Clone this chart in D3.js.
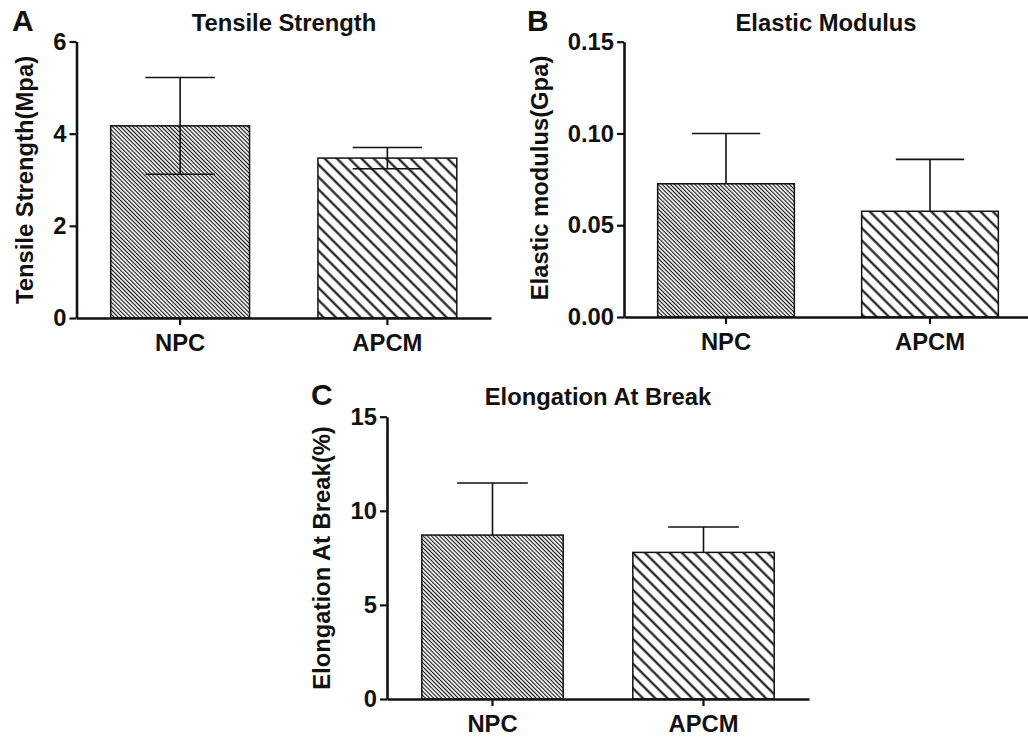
<!DOCTYPE html>
<html>
<head>
<meta charset="utf-8">
<script src="https://cdn.jsdelivr.net/npm/d3@7"></script>
<style>
  html, body { margin: 0; padding: 0; background: #fff; }
  svg { display: block; }
  text { font-family: "Liberation Sans", Arial, sans-serif; font-weight: bold; fill: #111; }
</style>
</head>
<body>
<script>
// ---- data ----
const categories = ["NPC", "APCM"];

const tensileMean = [4.17, 3.47];
const tensileSD   = [1.05, 0.23];
const tensileTicks = [0, 2, 4, 6];

const elasticMean = [0.0726, 0.0576];
const elasticSD   = [0.0274, 0.0283];
const elasticTicks = [0, 0.05, 0.10, 0.15];

const elongMean = [8.71, 7.79];
const elongSD   = [2.77, 1.35];
const elongTicks = [0, 5, 10, 15];

const panelLetters = ["A", "B", "C"];
const panelTitles = ["Tensile Strength", "Elastic Modulus", "Elongation At Break"];
const yLabels = ["Tensile Strength(Mpa)", "Elastic modulus(Gpa)", "Elongation At Break(%)"];

// ---- layout ----
const W = 1028, H = 737;
const FS = 23.8;
const svg = d3.select("body").append("svg").attr("width", W).attr("height", H);
const defs = svg.append("defs");

function hatch(id, spacing, sw) {
  const p = defs.append("pattern")
    .attr("id", id)
    .attr("patternUnits", "userSpaceOnUse")
    .attr("width", spacing).attr("height", spacing)
    .attr("patternTransform", "rotate(-45)");
  p.append("rect").attr("width", spacing).attr("height", spacing).attr("fill", "#fff");
  p.append("line")
    .attr("x1", spacing / 2).attr("x2", spacing / 2)
    .attr("y1", -1).attr("y2", spacing + 1)
    .attr("stroke", "#111").attr("stroke-width", sw);
}
hatch("hatchDense", 2.9, 1.15);
hatch("hatchWide", 8.7, 2.1);
const fills = ["url(#hatchDense)", "url(#hatchWide)"];

const panels = [
  { mean: tensileMean, sd: tensileSD, ticks: tensileTicks, fmt: d3.format("d"),
    x0: 76.5, x1: 491, y0: 318, y1: 41.5, both: true,
    letter: [12, 31], title: [284, 31], ylab: [33, 180] },
  { mean: elasticMean, sd: elasticSD, ticks: elasticTicks, fmt: d3.format(".2f"),
    x0: 624, x1: 1032, y0: 317, y1: 41.7, both: false,
    letter: [527, 31], title: [826, 31], ylab: [548, 178] },
  { mean: elongMean, sd: elongSD, ticks: elongTicks, fmt: d3.format("d"),
    x0: 387, x1: 809, y0: 699, y1: 416.7, both: false,
    letter: [311, 405], title: [598, 405], ylab: [330, 558] }
];

panels.forEach((p, i) => {
  const g = svg.append("g");
  const x = d3.scaleBand().domain(categories).range([p.x0, p.x1])
    .paddingInner(0.33).paddingOuter(0.165);
  const y = d3.scaleLinear().domain([p.ticks[0], p.ticks[p.ticks.length - 1]]).range([p.y0, p.y1]);

  // bars
  g.selectAll("rect.bar").data(categories).join("rect")
    .attr("class", "bar")
    .attr("x", d => x(d))
    .attr("width", x.bandwidth())
    .attr("y", (d, j) => y(p.mean[j]))
    .attr("height", (d, j) => y(0) - y(p.mean[j]))
    .attr("fill", (d, j) => fills[j])
    .attr("stroke", "#111").attr("stroke-width", 1.5);

  // error bars
  const capW = x.bandwidth() * 0.5;
  categories.forEach((c, j) => {
    const cx = x(c) + x.bandwidth() / 2;
    const top = y(p.mean[j] + p.sd[j]);
    const bot = p.both ? y(p.mean[j] - p.sd[j]) : y(p.mean[j]);
    g.append("line").attr("x1", cx).attr("x2", cx).attr("y1", top).attr("y2", bot)
      .attr("stroke", "#111").attr("stroke-width", 1.6);
    g.append("line").attr("x1", cx - capW / 2).attr("x2", cx + capW / 2).attr("y1", top).attr("y2", top)
      .attr("stroke", "#111").attr("stroke-width", 1.6);
    if (p.both) {
      g.append("line").attr("x1", cx - capW / 2).attr("x2", cx + capW / 2).attr("y1", bot).attr("y2", bot)
        .attr("stroke", "#111").attr("stroke-width", 1.6);
    }
  });

  // axes
  const ya = g.append("g").attr("transform", `translate(${p.x0},0)`)
    .call(d3.axisLeft(y).tickValues(p.ticks).tickFormat(p.fmt).tickSize(7).tickPadding(3).tickSizeOuter(0));
  const xa = g.append("g").attr("transform", `translate(0,${p.y0})`)
    .call(d3.axisBottom(x).tickSize(7).tickPadding(9).tickSizeOuter(0));
  [ya, xa].forEach(a => {
    a.select(".domain").attr("stroke", "#111").attr("stroke-width", 2.6);
    a.selectAll(".tick line").attr("stroke", "#111").attr("stroke-width", 2.2);
    a.selectAll(".tick text").attr("font-size", FS).attr("font-weight", "bold")
      .attr("font-family", "'Liberation Sans', Arial, sans-serif").attr("fill", "#111");
  });

  // letters and titles
  g.append("text").attr("x", p.letter[0]).attr("y", p.letter[1])
    .attr("font-size", 30).text(panelLetters[i]);
  g.append("text").attr("x", p.title[0]).attr("y", p.title[1])
    .attr("text-anchor", "middle").attr("font-size", FS).text(panelTitles[i]);
  g.append("text")
    .attr("transform", `translate(${p.ylab[0]},${p.ylab[1]}) rotate(-90)`)
    .attr("text-anchor", "middle").attr("font-size", FS).text(yLabels[i]);
});
</script>
</body>
</html>
